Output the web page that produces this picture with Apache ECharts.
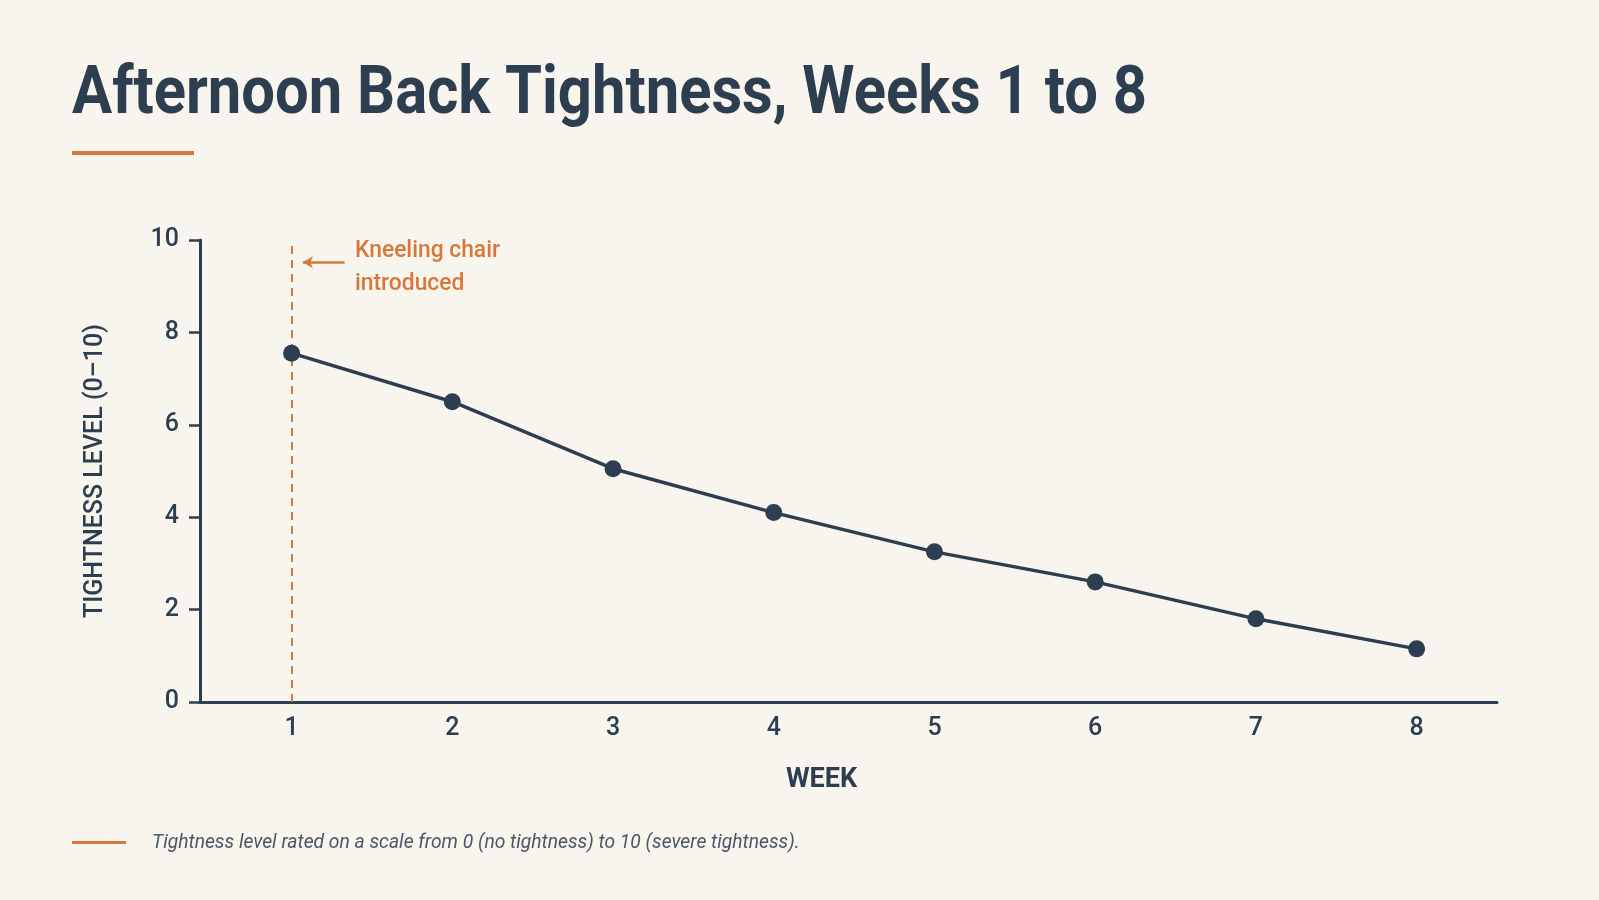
<!DOCTYPE html>
<html>
<head>
<meta charset="utf-8">
<title>Afternoon Back Tightness</title>
<script src="https://cdn.jsdelivr.net/npm/echarts@6/dist/echarts.min.js"></script>
<style>
  html, body { margin: 0; padding: 0; background: #f8f4ee; }
  #chart { width: 1599px; height: 900px; }
</style>
</head>
<body>
<div id="chart"></div>
<script>
// data
const weeks = [1, 2, 3, 4, 5, 6, 7, 8]
const tightness = [7.55, 6.5, 5.05, 4.1, 3.25, 2.6, 1.8, 1.15]
const yTicks = [0, 2, 4, 6, 8, 10]
const interventionWeek = 1

const INK = '#2c3e50'
const ORANGE = '#d6783a'
const FONT = 'Roboto, "Noto Sans", sans-serif'

const chart = echarts.init(document.getElementById('chart'))

chart.setOption({
  backgroundColor: '#f8f4ee',
  animation: false,
  grid: { left: 200, right: 102, top: 240, bottom: 198 },
  xAxis: {
    type: 'value',
    min: 0.43,
    max: 8.5,
    name: 'WEEK',
    nameLocation: 'middle',
    nameGap: 65,
    nameTextStyle: {
      fontFamily: FONT, fontSize: 27, fontWeight: 'bold', color: INK,
      padding: [0, 54, 0, 0]
    },
    axisLine: { show: true, onZero: false, lineStyle: { color: INK, width: 3 } },
    axisTick: { show: false },
    splitLine: { show: false },
    axisLabel: {
      customValues: weeks,
      margin: 14,
      fontFamily: FONT, fontSize: 25, fontWeight: 500, color: INK
    }
  },
  yAxis: {
    type: 'value',
    min: 0,
    max: 10,
    interval: 2,
    name: 'TIGHTNESS LEVEL (0–10)',
    nameLocation: 'middle',
    nameGap: 92,
    nameTextStyle: { fontFamily: FONT, fontSize: 25, fontWeight: 500, color: INK },
    axisLine: { show: true, lineStyle: { color: INK, width: 3 } },
    axisTick: { show: true, length: 11, lineStyle: { color: INK, width: 2.5 } },
    splitLine: { show: false },
    axisLabel: {
      customValues: yTicks,
      margin: 21,
      fontFamily: FONT, fontSize: 25, fontWeight: 500, color: INK
    }
  },
  series: [{
    type: 'line',
    data: weeks.map((w, i) => [w, tightness[i]]),
    symbol: 'circle',
    symbolSize: 17,
    itemStyle: { color: INK },
    lineStyle: { color: INK, width: 3.5 },
    z: 5,
    markLine: {
      silent: true,
      symbol: 'none',
      label: { show: false },
      lineStyle: { color: ORANGE, width: 2, type: [8, 6] },
      data: [
        { xAxis: interventionWeek },
        [
          { coord: [1.33, 9.52], symbol: 'none', lineStyle: { color: ORANGE, width: 2.5, type: 'solid' } },
          { coord: [1.07, 9.52], symbol: 'arrow', symbolSize: [9, 10], lineStyle: { color: ORANGE, width: 2.5, type: 'solid' } }
        ]
      ]
    }
  }],
  graphic: [
    {
      type: 'text',
      x: 72,
      y: 63,
      scaleX: 0.905,
      style: {
        text: 'Afternoon Back Tightness, Weeks 1 to 8',
        font: 'bold 66px ' + FONT,
        fill: INK
      }
    },
    {
      type: 'rect',
      shape: { x: 72, y: 151, width: 122, height: 4 },
      style: { fill: ORANGE }
    },
    {
      type: 'text',
      x: 355,
      y: 234,
      scaleX: 0.95,
      style: {
        text: 'Kneeling chair\nintroduced',
        font: '500 24px ' + FONT,
        lineHeight: 33,
        fill: ORANGE
      }
    },
    {
      type: 'rect',
      shape: { x: 72, y: 841, width: 54, height: 3 },
      style: { fill: ORANGE }
    },
    {
      type: 'text',
      x: 152,
      y: 834,
      style: {
        text: 'Tightness level rated on a scale from 0 (no tightness) to 10 (severe tightness).',
        font: 'italic 19.3px ' + FONT,
        fill: '#4a5866'
      }
    }
  ]
})
</script>
</body>
</html>
